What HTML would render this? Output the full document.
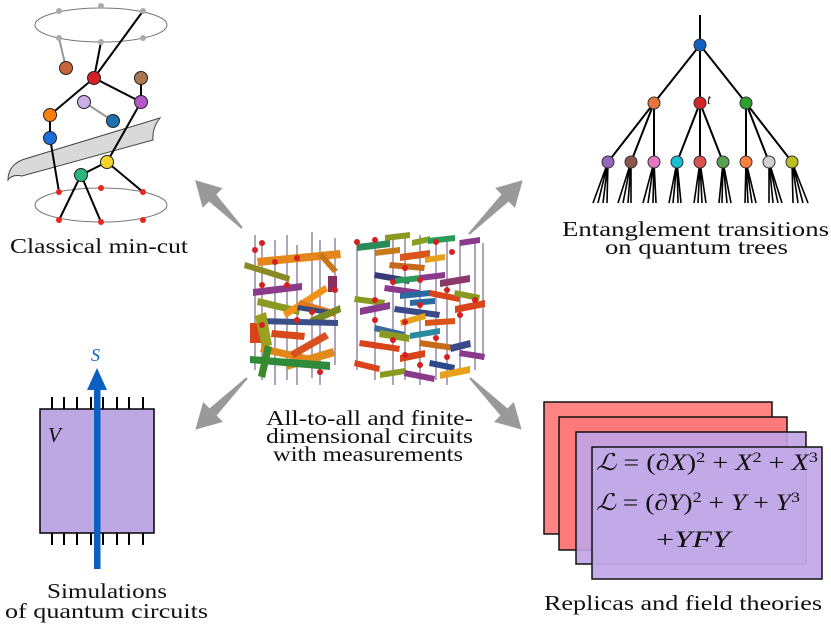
<!DOCTYPE html>
<html><head><meta charset="utf-8"><style>
html,body{margin:0;padding:0;background:#fff;}
svg{display:block;}
svg text{font-family:"Liberation Serif","DejaVu Serif",serif;fill:#111;}
</style></head><body>
<svg width="831" height="627" viewBox="0 0 831 627" xmlns="http://www.w3.org/2000/svg" font-family="Liberation Serif, DejaVu Serif, serif">
<!-- ===== Top-left: classical min-cut ===== -->
<ellipse cx="101" cy="25" rx="66" ry="17" fill="none" stroke="#777" stroke-width="1"/>
<ellipse cx="101" cy="205" rx="66" ry="17" fill="none" stroke="#777" stroke-width="1"/>
<line x1="59" y1="38" x2="66" y2="68" stroke="#999" stroke-width="2"/>
<line x1="101" y1="42" x2="94" y2="78" stroke="#000" stroke-width="2"/>
<line x1="143" y1="11" x2="94" y2="78" stroke="#000" stroke-width="2"/>
<line x1="94" y1="78" x2="50" y2="115" stroke="#000" stroke-width="2"/>
<line x1="94" y1="78" x2="141" y2="102" stroke="#000" stroke-width="2"/>
<line x1="141" y1="78" x2="141" y2="102" stroke="#000" stroke-width="2"/>
<line x1="84" y1="102" x2="113" y2="121" stroke="#999" stroke-width="2"/>
<line x1="50" y1="115" x2="50" y2="138" stroke="#000" stroke-width="2"/>
<path d="M8,180 Q8,163 28,158 L160,118 Q152,128 153,140 L22,176 Q12,174 8,180 Z" fill="#d9d9d9" stroke="#444" stroke-width="1"/>
<line x1="141" y1="102" x2="107" y2="162" stroke="#000" stroke-width="2"/>
<line x1="107" y1="162" x2="81" y2="175" stroke="#000" stroke-width="2"/>
<line x1="50" y1="138" x2="59" y2="192" stroke="#000" stroke-width="2"/>
<line x1="81" y1="175" x2="59" y2="220" stroke="#000" stroke-width="2"/>
<line x1="81" y1="175" x2="101" y2="222" stroke="#000" stroke-width="2"/>
<line x1="107" y1="162" x2="143" y2="192" stroke="#000" stroke-width="2"/>
<g fill="#aaa"><circle cx="59" cy="11" r="3"/><circle cx="101" cy="6" r="3"/><circle cx="143" cy="11" r="3"/><circle cx="59" cy="38" r="3"/><circle cx="101" cy="42" r="3"/><circle cx="143" cy="38" r="3"/></g>
<g fill="#e8281c"><circle cx="59" cy="192" r="3"/><circle cx="101" cy="188" r="3"/><circle cx="143" cy="192" r="3"/><circle cx="59" cy="220" r="3"/><circle cx="101" cy="222" r="3"/><circle cx="143" cy="220" r="3"/></g>
<g stroke="#222" stroke-width="1">
<circle cx="66" cy="68" r="6.5" fill="#c8643a"/>
<circle cx="94" cy="78" r="6.5" fill="#d62028"/>
<circle cx="141" cy="78" r="6.5" fill="#a9784f"/>
<circle cx="84" cy="102" r="6.5" fill="#c9aee8"/>
<circle cx="141" cy="102" r="6.5" fill="#b455c8"/>
<circle cx="113" cy="121" r="6.5" fill="#1f6fb0"/>
<circle cx="50" cy="115" r="6.5" fill="#ff7f0e"/>
<circle cx="50" cy="138" r="6.5" fill="#1a6fd8"/>
<circle cx="107" cy="162" r="6.5" fill="#f5d42a"/>
<circle cx="81" cy="175" r="6.5" fill="#2ab87a"/>
</g>
<text x="10" y="253" font-family="Liberation Serif, DejaVu Serif, serif" font-size="21" textLength="178" lengthAdjust="spacingAndGlyphs">Classical min-cut</text>

<!-- ===== Arrows ===== -->
<g fill="#999">
<g transform="translate(242,228) rotate(-134.4)"><polygon points="0,-1 42,-5 42,-14 67,0 42,14 42,5 0,1"/></g>
<g transform="translate(469,234) rotate(-45)"><polygon points="0,-1 51,-5 51,-14 76,0 51,14 51,5 0,1"/></g>
<g transform="translate(247,378) rotate(135)"><polygon points="0,-1 48,-5 48,-14 73,0 48,14 48,5 0,1"/></g>
<g transform="translate(470,378) rotate(45)"><polygon points="0,-1 48,-5 48,-14 73,0 48,14 48,5 0,1"/></g>
</g>

<!-- ===== Center circuits ===== -->
<g stroke="#9a90a8" stroke-width="1.6">
<line x1="255" y1="235" x2="255" y2="370"/><line x1="262" y1="245" x2="262" y2="380"/><line x1="275" y1="240" x2="275" y2="385"/>
<line x1="287" y1="235" x2="287" y2="380"/><line x1="297" y1="245" x2="297" y2="385"/><line x1="312" y1="232" x2="312" y2="378"/>
<line x1="320" y1="240" x2="320" y2="385"/><line x1="335" y1="238" x2="335" y2="365"/>
<line x1="357" y1="240" x2="357" y2="370"/><line x1="375" y1="237" x2="375" y2="380"/><line x1="393" y1="235" x2="393" y2="385"/>
<line x1="405" y1="238" x2="405" y2="380"/><line x1="420" y1="235" x2="420" y2="385"/><line x1="436" y1="240" x2="436" y2="380"/>
<line x1="447" y1="236" x2="447" y2="385"/><line x1="460" y1="240" x2="460" y2="375"/><line x1="475" y1="238" x2="475" y2="370"/>
<line x1="483" y1="243" x2="483" y2="360"/>
</g>
<g stroke-width="0">
<polygon points="257,258 340,250 341,258 258,266" fill="#e5861a"/>
<polygon points="245,262 290,276 289,282 244,268" fill="#8a8a22"/>
<polygon points="322,252 338,270 333,273 318,256" fill="#c7771a"/>
<polygon points="253,289 302,283 302,290 253,296" fill="#8a3a8a"/>
<polygon points="328,276 337,276 337,292 328,292" fill="#8a3060"/>
<polygon points="258,298 300,308 299,315 257,305" fill="#8a9a20"/>
<polygon points="283,312 325,285 328,291 286,318" fill="#f0921a"/>
<polygon points="300,300 337,311 335,317 298,306" fill="#e07a20"/>
<polygon points="298,305 330,310 329,315 297,310" fill="#3a4a7a"/>
<polygon points="310,318 340,305 341,312 312,325" fill="#7a8a20"/>
<polygon points="258,318 338,320 338,326 258,324" fill="#3b4f88"/>
<polygon points="250,323 262,323 262,343 250,343" fill="#d9441a"/>
<polygon points="255,316 266,312 272,345 262,348" fill="#9aa020"/>
<polygon points="272,330 305,333 304,340 271,337" fill="#d94a1a"/>
<polygon points="262,345 320,358 318,365 260,352" fill="#e5861a"/>
<polygon points="290,352 325,332 329,338 294,358" fill="#d95020"/>
<polygon points="285,362 333,348 335,356 287,370" fill="#e08a1a"/>
<polygon points="250,356 330,362 330,370 250,363" fill="#2f8a3a"/>
<polygon points="265,345 272,347 265,378 258,376" fill="#3a8a2a"/>
<polygon points="357,244 390,240 390,247 357,251" fill="#2a8a5a"/>
<polygon points="385,235 410,232 410,238 385,241" fill="#8a9a20"/>
<polygon points="412,240 430,236 430,242 412,246" fill="#8aa020"/>
<polygon points="428,238 455,235 455,241 428,244" fill="#2a9a5a"/>
<polygon points="460,240 480,237 480,243 460,246" fill="#8a3a8a"/>
<polygon points="375,250 400,247 400,253 375,256" fill="#c77a1a"/>
<polygon points="400,254 430,250 430,257 400,261" fill="#d9551a"/>
<polygon points="425,257 445,254 445,260 425,263" fill="#e8a01a"/>
<polygon points="390,262 425,265 424,271 389,268" fill="#c76a1a"/>
<polygon points="375,272 410,278 409,284 374,278" fill="#3a3a7a"/>
<polygon points="395,278 420,275 420,281 395,284" fill="#2a9a5a"/>
<polygon points="420,275 445,272 445,278 420,281" fill="#8a3a8a"/>
<polygon points="440,280 470,275 470,282 440,287" fill="#8a3a6a"/>
<polygon points="385,285 420,290 419,296 384,291" fill="#8a3a8a"/>
<polygon points="400,293 430,290 430,296 400,299" fill="#2a6aa0"/>
<polygon points="430,290 460,296 459,302 429,296" fill="#d9441a"/>
<polygon points="455,290 480,295 479,301 454,296" fill="#8a9a20"/>
<polygon points="355,296 385,300 384,306 354,302" fill="#8a9a20"/>
<polygon points="360,308 390,302 390,309 360,315" fill="#8a3a8a"/>
<polygon points="395,306 440,312 439,318 394,312" fill="#3a4a8a"/>
<polygon points="410,300 435,298 435,304 410,306" fill="#2a6aa0"/>
<polygon points="455,306 485,300 485,307 455,313" fill="#d9441a"/>
<polygon points="400,320 425,313 426,319 401,326" fill="#e8a01a"/>
<polygon points="425,320 455,318 455,324 425,326" fill="#d9551a"/>
<polygon points="375,325 405,332 404,338 374,331" fill="#3a6aa0"/>
<polygon points="380,330 410,335 409,342 379,337" fill="#8a9a20"/>
<polygon points="410,333 440,328 440,334 410,339" fill="#2a8aa0"/>
<polygon points="360,340 400,346 399,352 359,346" fill="#d9441a"/>
<polygon points="420,340 455,345 454,351 419,346" fill="#c76a1a"/>
<polygon points="450,345 470,340 471,347 451,352" fill="#3a4a8a"/>
<polygon points="460,350 485,354 484,360 459,356" fill="#8a3a8a"/>
<polygon points="400,355 425,350 425,357 400,362" fill="#d9441a"/>
<polygon points="430,360 455,365 454,371 429,366" fill="#2a4a8a"/>
<polygon points="355,360 380,366 379,372 354,366" fill="#d9441a"/>
<polygon points="380,372 405,368 405,374 380,378" fill="#8a9a20"/>
<polygon points="405,370 435,376 434,382 404,376" fill="#8a3a8a"/>
<polygon points="440,372 470,366 470,373 440,379" fill="#e8a01a"/>
</g>
<g fill="#d42020">
<circle cx="255" cy="250" r="3"/><circle cx="262" cy="243" r="3"/><circle cx="297" cy="258" r="3"/><circle cx="275" cy="262" r="3"/>
<circle cx="262" cy="285" r="3"/><circle cx="287" cy="285" r="3"/><circle cx="335" cy="290" r="3"/><circle cx="312" cy="312" r="3"/>
<circle cx="262" cy="325" r="3"/><circle cx="320" cy="372" r="3"/><circle cx="297" cy="320" r="3"/>
<circle cx="357" cy="242" r="3"/><circle cx="375" cy="240" r="3"/><circle cx="436" cy="242" r="3"/><circle cx="452" cy="252" r="3"/>
<circle cx="405" cy="268" r="3"/><circle cx="420" cy="280" r="3"/><circle cx="393" cy="282" r="3"/><circle cx="447" cy="290" r="3"/>
<circle cx="375" cy="300" r="3"/><circle cx="420" cy="305" r="3"/><circle cx="460" cy="315" r="3"/><circle cx="405" cy="322" r="3"/>
<circle cx="375" cy="320" r="3"/><circle cx="436" cy="338" r="3"/><circle cx="393" cy="340" r="3"/><circle cx="447" cy="357" r="3"/>
<circle cx="405" cy="355" r="3"/><circle cx="475" cy="300" r="3"/><circle cx="420" cy="365" r="3"/>
</g>
<g font-family="Liberation Serif, DejaVu Serif, serif" font-size="21">
<text x="266" y="425" textLength="207" lengthAdjust="spacingAndGlyphs">All-to-all and finite-</text>
<text x="266" y="443" textLength="207" lengthAdjust="spacingAndGlyphs">dimensional circuits</text>
<text x="273" y="461" textLength="190" lengthAdjust="spacingAndGlyphs">with measurements</text>
</g>

<!-- ===== Top-right tree ===== -->
<g stroke="#000" stroke-width="2">
<line x1="700" y1="15" x2="700" y2="45"/>
<line x1="700" y1="45" x2="654" y2="103"/><line x1="700" y1="45" x2="700" y2="103"/><line x1="700" y1="45" x2="746" y2="103"/>
<line x1="654" y1="103" x2="608" y2="162"/><line x1="654" y1="103" x2="631" y2="162"/><line x1="654" y1="103" x2="654" y2="162"/>
<line x1="700" y1="103" x2="677" y2="162"/><line x1="700" y1="103" x2="700" y2="162"/><line x1="700" y1="103" x2="723" y2="162"/>
<line x1="746" y1="103" x2="746" y2="162"/><line x1="746" y1="103" x2="769" y2="162"/><line x1="746" y1="103" x2="792" y2="162"/>
</g>
<g stroke="#000" stroke-width="1.6">
<path d="M608,162 L593,203 M608,162 L598,203 M608,162 L603,203 M608,162 L607,203"/>
<path d="M631,162 L618,203 M631,162 L623,203 M631,162 L628,203 M631,162 L631,203"/>
<path d="M654,162 L643,203 M654,162 L648,203 M654,162 L653,203 M654,162 L656,203"/>
<path d="M677,162 L669,203 M677,162 L673,203 M677,162 L678,203 M677,162 L681,203"/>
<path d="M700,162 L694,203 M700,162 L698,203 M700,162 L702,203 M700,162 L706,203"/>
<path d="M723,162 L719,203 M723,162 L722,203 M723,162 L727,203 M723,162 L731,203"/>
<path d="M746,162 L745,203 M746,162 L748,203 M746,162 L752,203 M746,162 L756,203"/>
<path d="M769,162 L769,203 M769,162 L773,203 M769,162 L778,203 M769,162 L782,203"/>
<path d="M792,162 L793,203 M792,162 L798,203 M792,162 L803,203 M792,162 L808,203"/>
</g>
<g stroke="#333" stroke-width="1">
<circle cx="700" cy="45" r="6" fill="#1060c0"/>
<circle cx="654" cy="103" r="6" fill="#e8743b"/><circle cx="700" cy="103" r="6" fill="#d62728"/><circle cx="746" cy="103" r="6" fill="#2ca02c"/>
<circle cx="608" cy="162" r="6" fill="#9467bd"/><circle cx="631" cy="162" r="6" fill="#8c564b"/><circle cx="654" cy="162" r="6" fill="#e377c2"/>
<circle cx="677" cy="162" r="6" fill="#17becf"/><circle cx="700" cy="162" r="6" fill="#d9534f"/><circle cx="723" cy="162" r="6" fill="#5aa050"/>
<circle cx="746" cy="162" r="6" fill="#ff7f3f"/><circle cx="769" cy="162" r="6" fill="#d0d0d0"/><circle cx="792" cy="162" r="6" fill="#bcbd22"/>
</g>
<text x="707" y="104" font-family="Liberation Serif, DejaVu Serif, serif" font-size="14" font-style="italic" fill="#444">t</text>
<g font-family="Liberation Serif, DejaVu Serif, serif" font-size="21">
<text x="562" y="236" textLength="267" lengthAdjust="spacingAndGlyphs">Entanglement transitions</text>
<text x="605" y="254" textLength="183" lengthAdjust="spacingAndGlyphs">on quantum trees</text>
</g>

<!-- ===== Bottom-left ===== -->
<g stroke="#000" stroke-width="2">
<path d="M52,397V409 M64,397V409 M77,397V409 M91,397V409 M103,397V409 M117,397V409 M129,397V409 M143,397V409"/>
<path d="M52,533V545 M64,533V545 M77,533V545 M91,533V545 M103,533V545 M117,533V545 M129,533V545 M143,533V545"/>
</g>
<rect x="40" y="409" width="114" height="124" fill="#bea8e4" stroke="#000" stroke-width="1.5"/>
<rect x="94" y="388" width="6.5" height="181" fill="#0a5fc0"/>
<polygon points="97,368 87,390 107,390" fill="#0a5fc0"/>
<text x="91" y="361" font-family="Liberation Serif, DejaVu Serif, serif" font-size="18" font-style="italic" style="fill:#0a5fc0">S</text>
<text x="48" y="442" font-family="Liberation Serif, DejaVu Serif, serif" font-size="21" font-style="italic">V</text>
<g font-family="Liberation Serif, DejaVu Serif, serif" font-size="21">
<text x="47" y="598" textLength="120" lengthAdjust="spacingAndGlyphs">Simulations</text>
<text x="5" y="618" textLength="203" lengthAdjust="spacingAndGlyphs">of quantum circuits</text>
</g>

<!-- ===== Bottom-right ===== -->
<rect x="544" y="402" width="228" height="132" fill="#ff8585" stroke="#111" stroke-width="1.5"/>
<rect x="559" y="417" width="228" height="133" fill="#ff7a7a" stroke="#111" stroke-width="1.5"/>
<rect x="576" y="432" width="230" height="132" fill="#c0a4e6" fill-opacity="0.9" stroke="#111" stroke-width="1.5"/>
<rect x="592" y="447" width="230" height="132" fill="#c2aae8" fill-opacity="0.95" stroke="#111" stroke-width="1.5"/>
<g font-family="Liberation Serif, DejaVu Serif, serif" font-size="23">
<text x="596" y="470" textLength="222" lengthAdjust="spacingAndGlyphs"><tspan font-style="italic">ℒ</tspan> = (∂<tspan font-style="italic">X</tspan>)<tspan font-size="15" dy="-8">2</tspan><tspan dy="8"> + </tspan><tspan font-style="italic">X</tspan><tspan font-size="15" dy="-8">2</tspan><tspan dy="8"> + </tspan><tspan font-style="italic">X</tspan><tspan font-size="15" dy="-8">3</tspan></text>
<text x="596" y="510" textLength="204" lengthAdjust="spacingAndGlyphs"><tspan font-style="italic">ℒ</tspan> = (∂<tspan font-style="italic">Y</tspan>)<tspan font-size="15" dy="-8">2</tspan><tspan dy="8"> + </tspan><tspan font-style="italic">Y</tspan> + <tspan font-style="italic">Y</tspan><tspan font-size="15" dy="-8">3</tspan></text>
<text x="656" y="547" textLength="74" lengthAdjust="spacingAndGlyphs">+<tspan font-style="italic">YFY</tspan></text>
</g>
<text x="544" y="610" font-family="Liberation Serif, DejaVu Serif, serif" font-size="21" textLength="278" lengthAdjust="spacingAndGlyphs">Replicas and field theories</text>
</svg>
</body></html>
